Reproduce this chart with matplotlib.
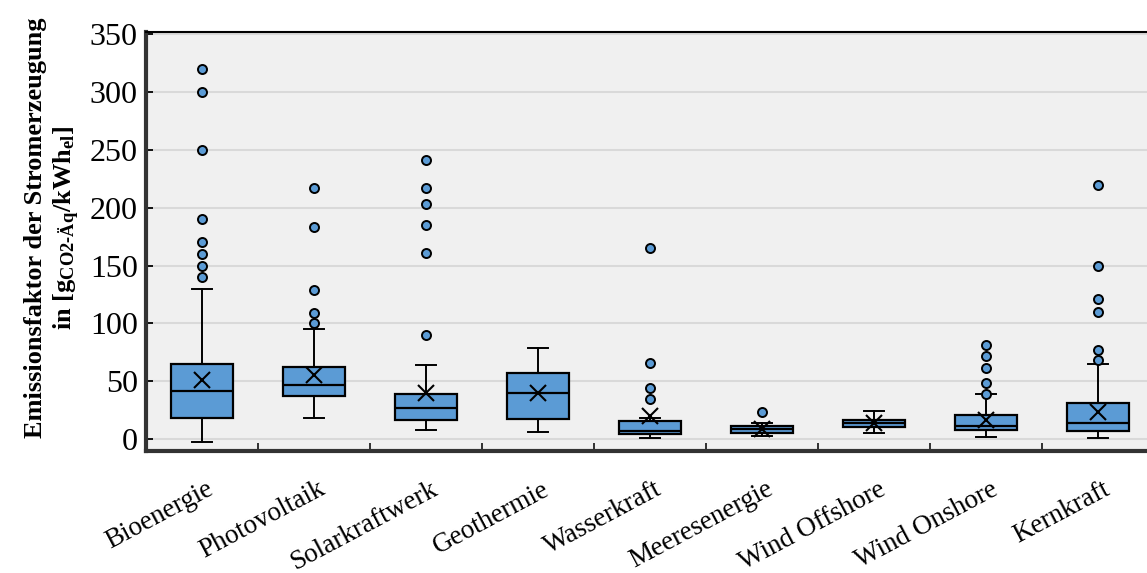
import matplotlib
matplotlib.use("Agg")
import matplotlib.pyplot as plt
import matplotlib.transforms as mtransforms
from matplotlib.ticker import MultipleLocator, FixedLocator

plt.rcParams['font.family'] = ['Liberation Serif', 'DejaVu Serif']
plt.rcParams['mathtext.fontset'] = 'custom'
plt.rcParams['mathtext.rm'] = 'Liberation Serif:bold'
plt.rcParams['mathtext.bf'] = 'Liberation Serif:bold'
plt.rcParams['mathtext.it'] = 'Liberation Serif:bold'

categories = ["Bioenergie", "Photovoltaik", "Solarkraftwerk", "Geothermie", "Wasserkraft",
              "Meeresenergie", "Wind Offshore", "Wind Onshore", "Kernkraft"]
whislo = [-3, 18, 8, 6, 1, 3, 5.5, 2, 1]
q1     = [18, 37.5, 16, 17, 4.3, 5.5, 10, 7.8, 7.2]
med    = [41.5, 47, 27, 40, 7.2, 8.4, 13.5, 11, 13.5]
q3     = [65, 62, 39, 57, 15.6, 11, 16.4, 20.5, 31.4]
whishi = [130, 95, 64, 79, 18, 14, 24, 39, 65]
means  = [51, 55, 40, 39.5, 20, 8.5, 13.5, 16.4, 23]
fliers = [
    [320, 300, 250, 190, 170, 160, 150, 140],
    [217, 183, 129, 109, 100],
    [241, 217, 203, 185, 161, 90],
    [],
    [165, 66, 44, 35],
    [23],
    [],
    [81, 72, 61, 48, 39],
    [220, 150, 121, 110, 77, 68],
]

stats = []
for i, c in enumerate(categories):
    stats.append(dict(label=c, whislo=whislo[i], q1=q1[i], med=med[i], q3=q3[i],
                      whishi=whishi[i], mean=means[i], fliers=fliers[i]))

fig = plt.figure(figsize=(11.47, 5.73), dpi=100)
ax = fig.add_axes([146/1147, 122/573, 1008/1147, 419/573])
ax.set_facecolor('#f0f0f0')

ax.bxp(stats, positions=range(len(categories)), widths=0.56, patch_artist=True,
       showmeans=True, capwidths=0.17,
       boxprops=dict(facecolor='#5b9bd5', edgecolor='black', linewidth=1.6),
       medianprops=dict(color='black', linewidth=1.6),
       whiskerprops=dict(color='black', linewidth=1.4),
       capprops=dict(color='black', linewidth=1.4),
       meanprops=dict(marker='x', markeredgecolor='black', markersize=12, markeredgewidth=1.5),
       flierprops=dict(marker='o', markerfacecolor='#5b9bd5', markeredgecolor='black',
                       markersize=6.5, markeredgewidth=1.4),
       zorder=3)

ax.set_xlim(-0.5, len(categories) - 0.5)
ax.set_ylim(-10.4, 352)
ax.yaxis.set_major_locator(MultipleLocator(50))
ax.grid(axis='y', color='#d9d9d9', linewidth=1.5, zorder=0)
ax.set_axisbelow(True)

ax.set_xticks(range(len(categories)))
ax.set_xticklabels(categories, rotation=28, ha='right', rotation_mode='anchor', fontsize=19.5)
ax.tick_params(axis='x', which='major', length=0, pad=18.5)
offset = mtransforms.ScaledTranslation(4/100, 0, fig.dpi_scale_trans)
for lab in ax.get_xticklabels():
    lab.set_transform(lab.get_transform() + offset)
ax.xaxis.set_minor_locator(FixedLocator([i + 0.5 for i in range(len(categories) - 1)]))
ax.tick_params(axis='x', which='minor', direction='in', length=6, width=1.3, color='#222222')
ax.tick_params(axis='y', direction='in', length=5, width=1.3, labelsize=23, pad=6)

for s in ['left', 'bottom']:
    ax.spines[s].set_linewidth(3)
    ax.spines[s].set_color('#333333')
ax.spines['top'].set_linewidth(1.5)
ax.spines['top'].set_color('black')
ax.spines['right'].set_visible(False)

ax.set_ylabel("Emissionsfaktor der Stromerzeugung\n"
              r"in [g$_{\mathrm{CO2\text{-}Äq}}$/kWh$_{\mathrm{el}}$]",
              fontsize=19, fontweight='bold', linespacing=1.25)
ax.yaxis.set_label_coords(-64/1008, (451 - 228) / 419)

fig.savefig("out.png", dpi=100)
